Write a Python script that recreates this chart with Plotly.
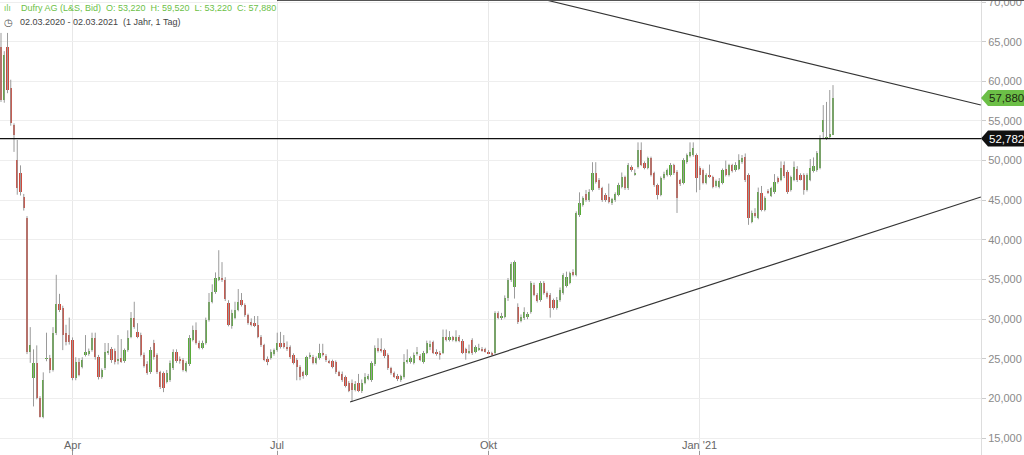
import plotly.graph_objects as go

# ---------------- data (EUR, daily candles 02.03.2020 - 02.03.2021) ----------------
open_ = [
    64.30, 57.60, 64.30, 59.20, 54.50, 50.10, 48.40, 45.40, 42.80, 25.90,
    22.60, 24.50, 20.10, 17.70, 25.00, 25.10, 23.60, 28.30, 31.90, 31.40,
    28.30, 28.00, 27.40, 22.60, 24.60, 24.00, 25.50, 25.60, 26.10, 27.60,
    25.20, 22.70, 23.80, 25.70,
    26.20, 26.00, 24.80, 25.10, 24.70, 26.10, 27.80, 30.20, 28.40, 28.00,
    25.50, 24.30, 23.30, 27.00, 25.50, 23.30, 23.20, 22.10, 22.30, 23.80,
    25.90, 25.00, 24.90, 23.50, 24.30, 27.40, 28.60, 27.00, 26.40, 27.00,
    29.90, 32.20, 33.40, 35.00, 35.20, 35.00, 32.10, 29.10, 30.20, 31.20,
    32.40, 31.80, 30.50, 29.60, 29.50, 29.30, 27.80, 26.70, 25.00, 25.10,
    25.60,
    26.10, 27.00, 27.00, 26.50, 26.50, 25.50, 24.90, 24.00, 23.30, 23.00,
    25.20, 25.20, 24.50, 25.10, 25.80, 25.40, 24.70, 24.70, 24.60, 23.30,
    23.10, 22.70, 22.00, 22.00, 21.10, 22.00, 20.90, 22.00, 22.50, 22.30,
    24.30, 26.40, 26.30, 26.10, 25.50, 23.80, 23.20, 22.90, 22.30, 22.70,
    24.60, 24.60, 24.50, 25.60, 25.40, 24.60, 25.80, 26.50, 27.10, 25.90,
    25.80,
    25.80, 27.70, 27.40, 27.70, 27.30, 27.80, 27.30, 26.20, 25.80, 27.40,
    25.90, 26.20, 26.30, 26.20, 25.90, 25.70, 25.70, 30.80, 30.10, 30.30,
    32.70, 35.00, 34.10, 31.50, 29.80, 30.10, 30.30, 30.90, 34.30, 33.10,
    32.40, 34.60, 33.30, 33.10, 32.40, 31.40, 32.40, 33.30, 34.20, 34.60,
    36.00, 35.60, 43.10, 44.40,
    45.80, 45.00, 46.30, 48.40, 47.60, 46.50, 45.70, 45.40, 44.60, 45.00,
    45.70, 46.70, 47.90, 46.50, 49.20, 48.30, 49.20, 51.30, 49.70, 49.10,
    50.30, 48.40, 46.90, 45.70, 47.80, 48.20, 48.20, 49.40, 48.60, 47.50,
    47.20, 49.80, 50.60, 50.70, 50.70, 49.10, 48.80, 47.20, 48.20, 47.90,
    46.80, 46.70, 47.20, 49.00, 48.20, 49.40, 48.80, 49.00, 49.80, 50.50,
    48.20, 42.30, 43.40, 42.80, 45.90, 43.80, 46.20, 45.60, 46.00, 47.80,
    47.60, 49.40, 48.60, 46.30, 47.60, 49.00, 48.20, 48.20, 46.30, 47.60,
    48.70, 48.80, 49.10, 53.60, 52.80, 53.00, 53.22,
]
high = [
    66.10, 63.80, 66.10, 60.20, 54.70, 52.60, 49.40, 45.80, 43.00, 29.00,
    26.20, 26.70, 20.30, 23.30, 28.30, 25.50, 29.00, 35.60, 33.20, 31.70,
    29.30, 30.20, 27.70, 25.20, 25.10, 25.20, 28.00, 26.30, 28.30, 28.30,
    25.50, 23.80, 27.00, 27.00,
    26.50, 26.30, 28.00, 27.50, 26.30, 28.60, 30.90, 32.20, 29.50, 28.30,
    25.80, 24.70, 26.50, 27.40, 25.70, 23.50, 23.40, 23.60, 24.80, 26.20,
    26.20, 25.30, 25.10, 24.70, 28.00, 29.20, 29.60, 27.30, 27.30, 30.20,
    33.30, 34.40, 35.90, 38.70, 37.20, 35.30, 32.40, 31.20, 32.20, 33.80,
    33.30, 32.00, 30.70, 30.10, 30.40, 30.40, 28.00, 26.90, 25.30, 26.20,
    26.30,
    28.30, 28.40, 28.00, 27.20, 26.70, 25.70, 25.10, 24.20, 23.50, 25.40,
    25.80, 25.50, 25.30, 26.90, 26.90, 25.60, 24.90, 24.90, 24.80, 23.50,
    23.40, 22.90, 22.20, 22.40, 22.20, 23.10, 22.40, 23.20, 23.10, 24.70,
    26.70, 27.60, 27.60, 26.30, 25.70, 24.00, 23.40, 23.10, 23.00, 25.60,
    26.20, 25.30, 25.80, 26.50, 25.60, 26.00, 27.30, 27.30, 27.30, 26.20,
    26.00,
    28.70, 28.70, 28.50, 27.90, 28.60, 28.00, 27.50, 26.40, 26.80, 27.60,
    26.70, 26.90, 26.50, 26.40, 26.10, 25.90, 31.00, 31.00, 30.80, 33.00,
    35.20, 37.20, 37.40, 32.00, 30.60, 31.50, 30.90, 34.80, 34.60, 33.30,
    34.80, 34.80, 33.50, 33.30, 32.60, 32.80, 34.00, 35.80, 36.00, 36.00,
    36.30, 43.60, 46.00, 45.50,
    46.30, 46.40, 49.80, 49.80, 47.80, 46.70, 45.90, 47.10, 45.30, 46.00,
    47.20, 48.50, 48.10, 49.70, 49.40, 48.90, 52.30, 52.30, 49.90, 50.50,
    50.50, 48.60, 47.10, 48.00, 48.60, 49.00, 49.70, 49.60, 48.80, 47.70,
    50.30, 50.90, 52.30, 52.30, 50.90, 49.30, 49.00, 48.40, 49.50, 48.10,
    47.60, 47.80, 49.00, 50.00, 49.60, 49.60, 49.80, 50.80, 50.70, 50.90,
    48.40, 43.70, 44.00, 46.60, 46.80, 45.50, 46.40, 46.70, 48.30, 48.00,
    49.90, 49.90, 48.80, 48.10, 49.90, 49.30, 48.40, 48.40, 48.40, 50.20,
    50.40, 51.20, 53.20, 57.00, 57.40, 58.90, 59.52,
]
low = [
    57.40, 57.30, 58.50, 54.40, 51.10, 45.70, 45.60, 43.70, 25.60, 24.50,
    19.00, 19.90, 17.60, 17.50, 24.70, 23.20, 23.40, 28.00, 30.90, 26.10,
    26.70, 26.80, 22.30, 22.30, 22.80, 23.80, 25.30, 25.40, 25.90, 24.90,
    22.40, 22.50, 23.60, 25.50,
    24.50, 24.30, 24.30, 24.50, 24.50, 25.90, 27.60, 28.80, 27.60, 25.30,
    23.90, 23.00, 23.10, 24.90, 23.10, 21.20, 20.80, 21.90, 22.10, 23.60,
    24.50, 24.40, 23.40, 23.30, 24.10, 27.20, 26.80, 26.20, 26.20, 26.80,
    29.70, 32.00, 33.20, 34.80, 34.70, 32.30, 29.10, 28.80, 30.00, 31.00,
    31.60, 30.30, 29.30, 29.10, 29.00, 27.60, 26.50, 24.70, 24.20, 24.90,
    25.40,
    25.90, 26.30, 26.30, 26.00, 25.00, 24.30, 22.30, 22.30, 22.50, 22.80,
    25.00, 24.30, 24.30, 24.90, 25.30, 24.60, 24.40, 23.80, 23.10, 22.80,
    22.10, 21.40, 20.80, 19.56, 20.90, 20.80, 20.70, 21.80, 22.30, 22.10,
    24.10, 25.80, 25.80, 25.10, 23.60, 23.00, 22.60, 22.20, 22.10, 22.50,
    24.40, 24.40, 24.30, 25.40, 24.70, 24.40, 25.60, 26.10, 25.60, 25.40,
    24.90,
    25.60, 27.20, 27.20, 27.20, 27.10, 27.10, 25.60, 24.90, 25.60, 25.50,
    25.70, 26.00, 25.90, 25.80, 25.60, 25.40, 25.60, 30.00, 29.90, 30.10,
    32.30, 34.70, 32.60, 29.40, 29.60, 29.90, 30.00, 30.70, 32.90, 32.10,
    32.20, 33.10, 32.60, 30.20, 31.20, 31.20, 32.20, 33.10, 34.00, 34.40,
    35.40, 35.40, 42.90, 44.20,
    44.80, 44.80, 46.10, 47.10, 46.30, 44.80, 44.80, 44.60, 44.40, 44.80,
    45.50, 46.50, 46.30, 46.30, 48.60, 48.10, 49.00, 49.30, 48.90, 48.90,
    48.00, 46.70, 45.10, 45.50, 47.60, 48.00, 48.00, 48.20, 43.40, 46.80,
    47.00, 49.60, 50.40, 50.50, 46.00, 46.30, 47.00, 47.00, 47.80, 46.50,
    46.60, 46.50, 47.00, 48.00, 48.00, 48.50, 48.60, 48.80, 49.60, 47.30,
    41.90, 42.10, 42.80, 42.60, 43.60, 43.60, 45.80, 45.40, 45.80, 47.10,
    47.40, 47.80, 45.80, 46.10, 47.40, 47.30, 47.50, 45.70, 46.10, 47.40,
    48.50, 48.60, 48.90, 52.80, 52.60, 52.80, 53.22,
]
close = [
    57.60, 63.30, 58.90, 54.70, 53.20, 46.50, 46.00, 44.00, 25.90, 26.70,
    24.50, 20.10, 17.70, 22.30, 25.10, 23.60, 28.30, 31.90, 31.20, 28.00,
    27.10, 27.10, 22.60, 24.60, 23.00, 24.90, 25.90, 26.00, 27.60, 25.20,
    22.70, 23.60, 25.90, 26.00,
    24.80, 24.60, 25.00, 24.60, 26.10, 27.60, 30.20, 29.00, 27.80, 25.50,
    24.10, 23.20, 26.10, 25.20, 23.30, 21.40, 21.30, 23.20, 24.50, 25.90,
    24.70, 24.70, 23.60, 24.50, 27.60, 28.60, 27.00, 26.40, 27.00, 29.90,
    32.20, 33.40, 35.20, 35.30, 34.90, 32.50, 29.30, 30.80, 31.20, 32.20,
    31.80, 30.50, 29.50, 29.30, 29.20, 27.80, 26.70, 24.90, 24.60, 25.90,
    26.10,
    27.00, 26.50, 26.50, 26.20, 25.20, 24.50, 24.00, 22.70, 22.90, 25.20,
    25.50, 24.50, 25.10, 25.80, 25.50, 24.80, 24.60, 24.00, 23.30, 22.90,
    22.30, 21.60, 21.00, 21.10, 21.80, 21.00, 22.00, 22.70, 22.80, 24.50,
    26.40, 26.00, 26.00, 25.30, 23.80, 23.20, 22.70, 22.50, 22.80, 24.60,
    24.90, 25.10, 25.50, 25.90, 24.90, 25.80, 27.00, 26.90, 25.80, 25.60,
    25.50,
    27.80, 27.50, 27.70, 27.40, 27.80, 27.30, 25.80, 25.80, 26.00, 25.70,
    26.50, 26.40, 26.10, 25.90, 25.70, 25.50, 30.80, 30.20, 30.40, 32.70,
    34.90, 36.90, 37.20, 29.60, 30.30, 30.90, 30.60, 34.60, 33.10, 32.30,
    34.60, 33.30, 32.80, 31.40, 31.40, 32.40, 33.70, 35.60, 35.30, 35.80,
    35.60, 43.40, 44.60, 45.30,
    45.00, 46.00, 48.40, 47.30, 46.50, 45.00, 45.00, 44.80, 45.20, 45.80,
    46.90, 47.90, 46.50, 49.50, 48.80, 48.50, 51.30, 49.50, 49.10, 50.30,
    48.20, 46.90, 45.70, 47.80, 48.30, 48.80, 49.40, 48.40, 45.30, 47.00,
    50.10, 50.70, 51.10, 51.60, 47.80, 48.20, 47.20, 48.20, 48.00, 46.70,
    47.40, 47.40, 48.80, 48.20, 49.40, 48.70, 49.50, 50.10, 50.30, 47.50,
    42.80, 43.40, 43.00, 46.00, 43.80, 45.30, 46.00, 46.50, 47.30, 47.30,
    49.10, 48.00, 46.00, 47.90, 49.20, 47.50, 47.60, 46.30, 48.20, 49.10,
    49.30, 51.00, 52.90, 55.10, 53.00, 53.40, 57.88,
]

tick_index = [22, 85, 150, 215]
tick_labels = ["Apr", "Jul", "Okt", "Jan '21"]
price_ticks = [15, 20, 25, 30, 35, 40, 45, 50, 55, 60, 65, 70]

resistance_level = 52.782
desc_trend_x = [167.7, 301.5]
desc_trend_y = [70.25, 57.01]
asc_trend_x = [107.4, 301.5]
asc_trend_y = [19.56, 45.41]

instrument = "Dufry AG (L&S, Bid)"
period_text = "02.03.2020 - 02.03.2021  (1 Jahr, 1 Tag)"

# ---------------- styling ----------------
UP = "#58ab38"
DOWN = "#d04a3c"
WICK = "#9a9a9a"
FONT = "Liberation Sans, Arial, sans-serif"


def de(v, d=3):
    return f"{v:.{d}f}".replace(".", ",")


x = list(range(len(close)))

wx, wy = [], []
for i, (h, l) in enumerate(zip(high, low)):
    wx += [i, i, None]
    wy += [l, h, None]

base = [min(o, c) for o, c in zip(open_, close)]
height = [max(abs(c - o), 0.08) for o, c in zip(open_, close)]
colors = [UP if c >= o else DOWN for o, c in zip(open_, close)]

fig = go.Figure()
fig.add_trace(go.Scatter(x=wx, y=wy, mode="lines", line=dict(color=WICK, width=1),
                         hoverinfo="skip", showlegend=False))
fig.add_trace(go.Bar(x=x, y=height, base=base, width=0.74,
                     marker=dict(color=colors, line=dict(width=0)),
                     hoverinfo="skip", showlegend=False))
fig.add_trace(go.Scatter(x=desc_trend_x, y=desc_trend_y, mode="lines",
                         line=dict(color="#333333", width=1.2), hoverinfo="skip", showlegend=False))
fig.add_trace(go.Scatter(x=asc_trend_x, y=asc_trend_y, mode="lines",
                         line=dict(color="#333333", width=1.2), hoverinfo="skip", showlegend=False))

W, H = 1024, 455
R = 43
plot_w = W - R
px = lambda p: p / plot_w          # pixel -> paper (x)
py = lambda p: 1 - p / H            # pixel -> paper (y)

shapes = [
    dict(type="line", xref="paper", yref="y", x0=0, x1=1, y0=resistance_level, y1=resistance_level,
         line=dict(color="#111111", width=1.2)),
    dict(type="line", xref="paper", yref="paper", x0=px(277), x1=px(W), y0=1, y1=1,
         line=dict(color="#555555", width=2)),
]

per_px = (70.252 - 12.877) / H
hh = 8 * per_px
for val, fill in [(close[-1], "#6cbf47"), (resistance_level, "#111111")]:
    shapes.append(dict(type="path", xref="paper", yref="y",
                       path=f"M {px(981)},{val} L {px(988)},{val - hh} L {px(W)},{val - hh} "
                            f"L {px(W)},{val + hh} L {px(988)},{val + hh} Z",
                       fillcolor=fill, line=dict(width=0), layer="above"))

annotations = [
    dict(xref="paper", yref="y", x=px(1006), y=close[-1], text=de(close[-1]), showarrow=False,
         xanchor="center", yanchor="middle", font=dict(family=FONT, size=11.5, color="#1c2a12")),
    dict(xref="paper", yref="y", x=px(1006), y=resistance_level, text=de(resistance_level),
         showarrow=False, xanchor="center", yanchor="middle",
         font=dict(family=FONT, size=11.5, color="#ffffff")),
    dict(xref="paper", yref="paper", x=px(2), y=py(8), text="ılı", showarrow=False,
         xanchor="left", yanchor="middle", font=dict(family="DejaVu Sans", size=8, color="#6cbf47")),
    dict(xref="paper", yref="paper", x=px(19), y=py(8),
         text=f"{instrument}  O: {de(open_[-1])}  H: {de(high[-1])}  L: {de(low[-1])}  C: {de(close[-1])}",
         showarrow=False, xanchor="left", yanchor="middle",
         font=dict(family=FONT, size=9, color="#6cbf47")),
    dict(xref="paper", yref="paper", x=px(2), y=py(22), text="◷", showarrow=False,
         xanchor="left", yanchor="middle", font=dict(family="DejaVu Sans", size=10, color="#555555")),
    dict(xref="paper", yref="paper", x=px(18), y=py(22), text=period_text, showarrow=False,
         xanchor="left", yanchor="middle", font=dict(family=FONT, size=9, color="#444444")),
]
# month labels along the bottom edge (inside the plotting area)
for ti, tl in zip(tick_index, tick_labels):
    annotations.append(dict(xref="x", yref="paper", x=ti, y=py(445), text=tl, showarrow=False,
                            xanchor="center", yanchor="middle",
                            font=dict(family=FONT, size=11, color="#666666")))

fig.update_layout(
    width=W, height=H,
    margin=dict(l=0, r=R, t=0, b=0, autoexpand=False),
    paper_bgcolor="white", plot_bgcolor="white",
    separators=",.",
    bargap=0, barmode="overlay",
    showlegend=False,
    shapes=shapes,
    annotations=annotations,
    xaxis=dict(range=[-0.31, 301.54], tickvals=tick_index, showticklabels=False, automargin=False,
               showgrid=True, gridcolor="#e8e8e8", gridwidth=1, zeroline=False, showline=False,
               ticks="inside", ticklen=4, tickcolor="#999999", fixedrange=True),
    yaxis=dict(side="right", range=[12.877, 70.252], tickvals=price_ticks, tickformat=".3f",
               automargin=False,
               showgrid=True, gridcolor="#eeeeee", zeroline=False, ticklabeloverflow="allow",
               showline=True, linecolor="#dddddd", ticks="outside", ticklen=4, tickcolor="#cccccc",
               tickfont=dict(family=FONT, size=11, color="#8a8a8a"), fixedrange=True),
)

fig.write_html(
    "out.html",
    config={"displayModeBar": False},
    post_script="document.body.style.margin='0';document.body.style.overflow='hidden';",
)
